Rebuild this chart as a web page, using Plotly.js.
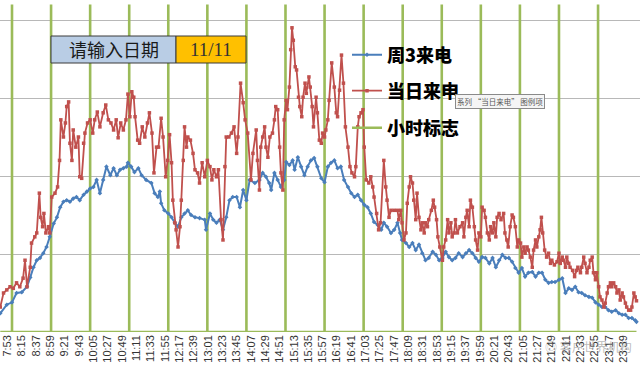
<!DOCTYPE html>
<html>
<head>
<meta charset="utf-8">
<script src="https://cdn.plot.ly/plotly-3.0.1.min.js"></script>
<style>html,body{margin:0;padding:0;background:#fff;}#chart{width:640px;height:379px;}</style>
</head>
<body>
<div id="chart"></div>
<script>
// ---- data (minutes since midnight) ----
const tickLabels = ['7:53','8:15','8:37','8:59','9:21','9:43','10:05','10:27','10:49','11:11','11:33','11:55','12:17','12:39','13:01','13:23','13:45','14:07','14:29','14:51','15:13','15:35','15:57','16:19','16:41','17:03','17:25','17:47','18:09','18:31','18:53','19:15','19:37','19:59','20:21','20:43','21:05','21:27','21:49','22:11','22:33','22:55','23:17','23:39'];

const seriesNames = ['周3来电','当日来申','小时标志'];

const blueT = [462,472,480,487,495,503,508,513,518,523,528,533,538,544,549,554,559,564,569,574,579,584,590,595,600,605,610,615,620,625,631,636,641,646,651,656,
658,663,668,674,679,686,694,699,704,707,709,714,720,725,730,735,740,745,750,755,761,768,776,778,784,789,794,799,804,809,814,819,825,830,835,840,845,853,
860,865,870,875,878,883,888,893,898,901,906,911,914,919,924,929,934,939,944,949,955,960,965,970,975,980,985,990,996,1001,1006,1011,1016,1021,1026,1031,1036,1042,1047,1051,
1056,1062,1067,1072,1076,1079,1085,1090,1095,1100,1105,1110,1115,1120,1126,1131,1136,1141,1146,1151,1156,1161,1166,1172,1177,1182,1187,1192,1197,1202,1207,1213,1218,1223,1228,1233,1238,1243,
1248,1253,1258,1263,1268,1273,1279,1284,1289,1294,1299,1304,1309,1314,1320,1325,1330,1335,1340,1345,1350,1355,1360,1366,1371,1376,1381,1386,1391,1396,1401,1407,1412,1417,1422,1427,1432,1437,1439];
const blueV = [24,35,38,50,51,58,70,83,92,95,101,109,122,139,147,160,167,169,167,171,173,169,176,180,184,186,195,178,195,212,201,210,201,208,210,212,
217,212,205,210,201,195,191,178,173,180,165,156,152,147,140,135,147,152,156,150,147,146,144,131,152,144,140,144,131,147,169,173,173,160,182,169,195,191,
195,204,199,191,182,204,195,186,195,218,214,220,208,224,212,201,212,220,223,212,197,192,212,217,220,210,212,195,186,178,173,176,169,163,160,152,141,137,131,140,
135,127,131,140,127,118,114,109,114,105,112,101,92,95,103,99,92,95,103,96,92,95,101,96,101,105,101,95,90,96,95,88,95,83,92,99,95,95,
90,82,76,82,71,76,77,71,76,76,67,63,64,64,67,69,50,56,54,58,51,50,47,45,44,38,35,32,32,28,26,28,24,22,22,18,18,15,13];

const redT = [462,467,472,477,482,487,492,497,500,503,508,510,515,518,522,524,527,529,532,536,538,541,546,550,553,555,559,562,564,567,569,572,574,578,582,584,587,590,592,596,600,604,607,611,615,620,624,628,632,636,640,643,647,651,655,658,
661,664,667,669,673,676,680,684,688,691,695,698,702,705,709,712,716,719,722,725,727,730,732,735,738,740,743,745,748,750,754,758,761,765,768,772,776,780,784,787,790,794,797,801,804,807,809,813,817,821,825,827,831,835,838,842,847,850,
855,857,860,862,865,868,870,873,876,880,883,885,888,891,893,896,898,901,903,906,908,910,912,915,917,920,922,925,927,930,932,936,938,941,943,947,949,952,955,957,960,962,965,967,971,975,978,980,983,986,989,992,996,999,1002,1006,1008,1011,1013,1016,1019,1021,1024,1028,1031,1034,1036,1040,1043,1046,
1051,1054,1056,1059,1062,1067,1072,1074,1077,1079,1082,1085,1087,1090,1092,1095,1097,1100,1102,1105,1108,1110,1113,1115,1118,1120,1124,1127,1129,1132,1134,1137,1141,1143,1146,1149,1151,1154,1156,1159,1161,1164,1168,1172,1174,1177,1179,1182,1184,1187,1190,1192,1195,1197,1200,1202,1205,1207,1210,1213,1215,1218,1220,1223,1225,1228,1231,1235,1237,1240,1242,1245,1248,
1250,1253,1256,1258,1261,1263,1266,1268,1271,1273,1276,1279,1281,1284,1286,1289,1291,1293,1295,1298,1301,1304,1307,1309,1313,1317,1320,1322,1325,1327,1330,1332,1335,1337,1341,1344,1347,1349,1353,1355,1358,1360,1363,1366,1368,1371,1373,1376,1378,1381,1383,1386,1389,1391,1394,1396,1399,1401,1404,1407,1409,1412,1414,1417,1419,1422,1424,1427,1430,1432,1435,1437,1439];
const redV = [32,50,54,58,56,63,58,69,92,58,83,114,122,127,178,147,135,152,127,135,127,173,178,186,220,272,250,268,289,295,242,220,259,237,250,199,197,242,255,268,272,255,272,282,263,281,291,272,268,259,272,249,268,259,272,305,
276,308,301,276,246,242,263,250,268,281,255,204,237,237,274,250,199,220,253,217,169,140,131,109,135,169,220,263,237,250,246,229,208,204,191,217,199,220,212,195,208,199,208,144,118,212,250,250,255,263,229,250,319,294,272,255,195,229,
259,220,182,237,250,263,237,224,250,255,272,289,285,237,204,182,272,297,285,314,362,390,374,340,336,301,289,276,301,319,306,327,314,289,263,301,281,246,242,255,250,259,272,297,345,314,281,276,310,355,319,263,237,212,204,199,212,263,276,281,285,237,195,191,199,186,173,152,131,140,
220,186,169,147,156,156,156,144,156,140,118,127,165,186,199,191,169,144,178,147,131,140,127,140,135,144,156,169,160,144,122,109,92,109,118,144,127,140,122,127,144,127,135,140,122,147,156,135,169,160,135,118,105,127,122,160,156,147,127,118,135,127,140,122,147,152,144,152,127,118,109,135,150,
147,135,109,118,114,96,109,101,109,105,96,83,105,118,109,122,131,147,127,105,96,101,88,92,86,90,101,88,96,92,83,96,88,83,79,71,79,83,76,83,96,88,76,83,92,96,76,67,76,58,45,41,32,37,50,58,63,58,63,58,50,54,41,50,45,37,32,28,28,32,50,45,40];

const hourMarks = [480,540,600,660,720,780,840,900,960,1020,1080,1140,1200,1260,1320,1380];
const markTop = 420;
const dayStart = 462, dayEnd = 1439;

// ---- layout helpers (pixel -> paper) ----
const W = 640, PH = 332;
const px = v => v / W;
const py = v => (PH - v) / PH;

function toMin(s){ const p = s.split(':'); return (+p[0])*60 + (+p[1]); }

// hour-mark series: zero baseline with a spike at each whole hour
const gX = [dayStart], gY = [0];
hourMarks.forEach(h => { gX.push(h, h, h); gY.push(0, markTop, 0); });
gX.push(dayEnd); gY.push(0);

const BLUE = '#4a7ebb', RED = '#c0504d', GREEN = '#9bbb59';

const traces = [
  {x: gX, y: gY, type: 'scatter', mode: 'lines', name: seriesNames[2], legend: 'legend3',
   line: {color: GREEN, width: 2.6}, hoverinfo: 'skip'},
  {x: blueT, y: blueV, type: 'scatter', mode: 'lines+markers', name: seriesNames[0], legend: 'legend',
   line: {color: BLUE, width: 2}, marker: {color: BLUE, size: 3.5, symbol: 'diamond'}},
  {x: redT, y: redV, type: 'scatter', mode: 'lines+markers', name: seriesNames[1], legend: 'legend2',
   line: {color: RED, width: 1.8}, marker: {color: RED, size: 3.5, symbol: 'square'}}
];

const legFont = {family: '"Noto Sans CJK SC", sans-serif', size: 18, color: '#000', weight: 900};
const legBase = {xanchor: 'left', yanchor: 'middle', bgcolor: 'rgba(0,0,0,0)', borderwidth: 0, font: legFont, itemwidth: 30};

const layout = {
  width: 640, height: 379,
  margin: {l: 0, r: 0, t: 0, b: 47, pad: 0},
  paper_bgcolor: '#fff', plot_bgcolor: '#fff',
  showlegend: true,
  legend:  Object.assign({x: px(347), y: py(55)}, legBase),
  legend2: Object.assign({x: px(347), y: py(91)}, legBase),
  legend3: Object.assign({x: px(347), y: py(128)}, legBase),
  xaxis: {
    type: 'linear', range: [461.57, 1444.42],
    tickvals: tickLabels.map(toMin), ticktext: tickLabels,
    tickangle: -90, ticks: '', showgrid: false, zeroline: false, showline: false,
    tickfont: {family: '"Liberation Sans", Arial, sans-serif', size: 11, color: '#333'}
  },
  yaxis: {
    range: [0, 425.64], tickvals: [100, 200, 300, 400], showticklabels: false,
    showgrid: true, gridcolor: '#b8b8b8', gridwidth: 1, zeroline: false, showline: false, ticks: ''
  },
  shapes: [
    {type: 'rect', xref: 'paper', yref: 'paper', x0: px(51), x1: px(176), y0: py(63), y1: py(36),
     fillcolor: '#b9cde5', line: {color: '#3a3a3a', width: 1}, layer: 'above'},
    {type: 'rect', xref: 'paper', yref: 'paper', x0: px(176), x1: px(246), y0: py(63), y1: py(36),
     fillcolor: '#ffc000', line: {color: '#3a3a3a', width: 1}, layer: 'above'}
  ],
  annotations: [
    {xref: 'paper', yref: 'paper', x: px(113.5), y: py(49.5), text: '请输入日期', showarrow: false,
     xanchor: 'center', yanchor: 'middle', font: {family: '"Noto Sans CJK SC", sans-serif', size: 18, color: '#1a1a1a'}},
    {xref: 'paper', yref: 'paper', x: px(211), y: py(49.5), text: '11/11', showarrow: false,
     xanchor: 'center', yanchor: 'middle', font: {family: '"Liberation Serif", serif', size: 19, color: '#333'}},
    {xref: 'paper', yref: 'paper', x: px(499.5), y: py(101.5), text: '系列 “当日来电” 图例项', showarrow: false,
     xanchor: 'center', yanchor: 'middle', bgcolor: '#f5f5f5', bordercolor: '#8a8a8a', borderwidth: 1, borderpad: 1,
     font: {family: '"Noto Sans CJK SC", sans-serif', size: 7.5, color: '#555'}},
    {xref: 'paper', yref: 'paper', x: px(588), y: py(347), text: '◎ 客户世界机构', showarrow: false,
     xanchor: 'center', yanchor: 'middle',
     font: {family: '"Noto Sans CJK SC", sans-serif', size: 12, color: 'rgba(140,140,140,0.6)'}}
  ]
};

Plotly.newPlot('chart', traces, layout, {displayModeBar: false, staticPlot: true});
</script>
</body>
</html>
